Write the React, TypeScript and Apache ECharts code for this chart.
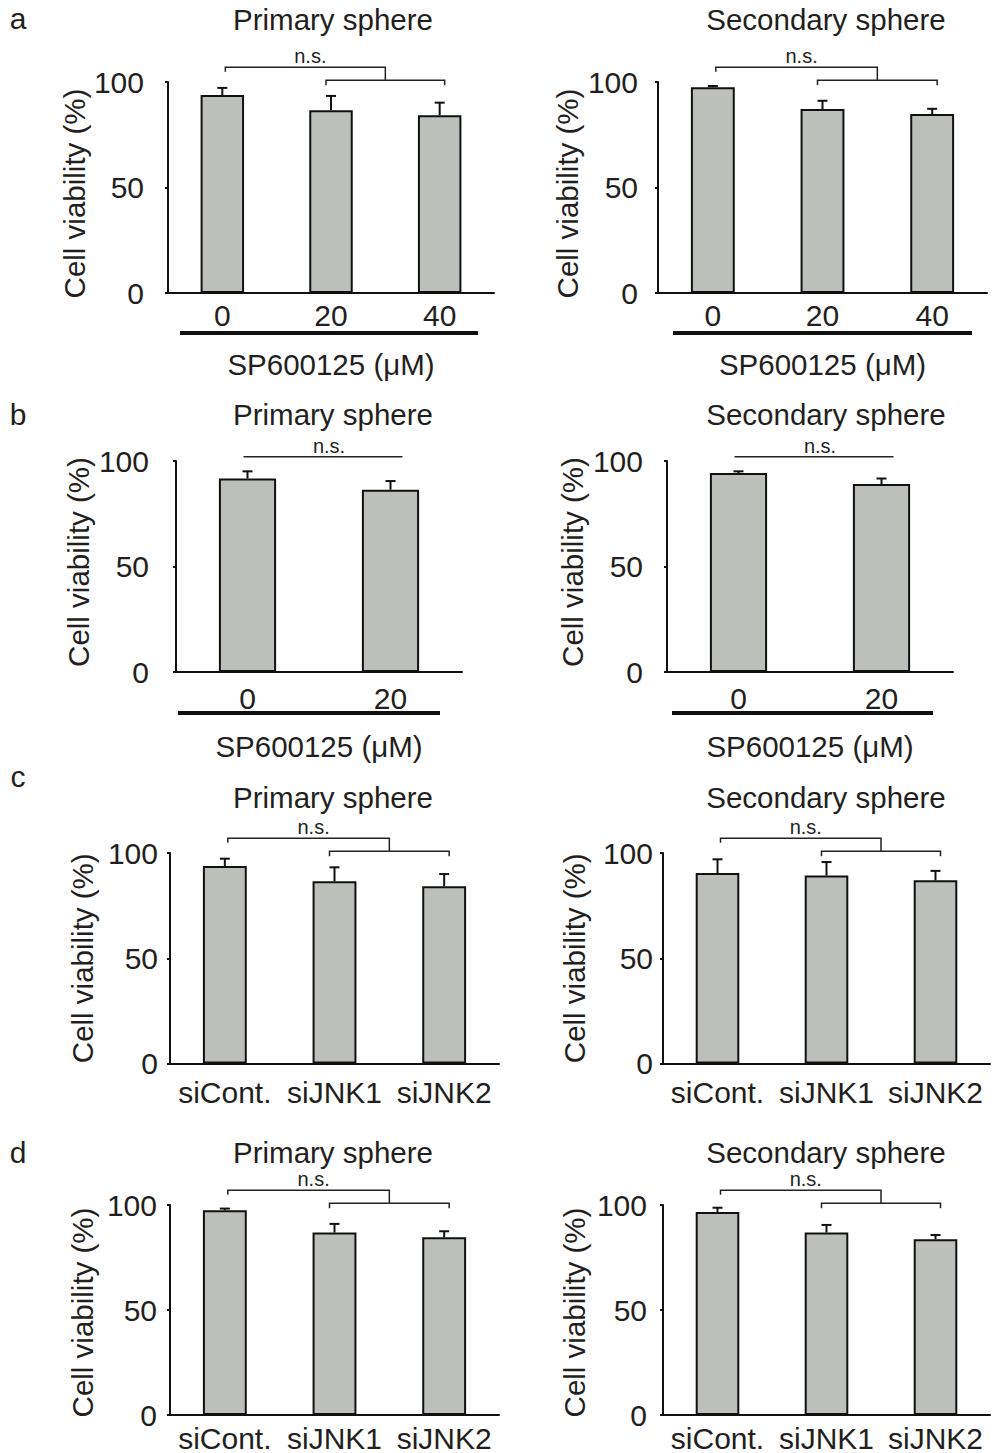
import React, { useEffect, useRef } from 'react';
import * as echarts from 'echarts';

const FONT = '"Liberation Sans", Arial, Helvetica, sans-serif';
const TEXT = '#231f20';
const INK = '#111111';
const BAR = '#bcbfba';
const FS_TICK = 30;
const FS_TEXT = 29.5;

// categories
const doseCats3 = ['0', '20', '40'];
const doseCats2 = ['0', '20'];
const siCats = ['siCont.', 'siJNK1', 'siJNK2'];

// values (mean, upper SE)
const aPrimaryMean = [93.8, 86.6, 84.2];
const aPrimaryErr = [3.4, 6.8, 6.0];
const aSecondaryMean = [97.5, 87.2, 84.8];
const aSecondaryErr = [0.6, 3.9, 2.5];
const bPrimaryMean = [91.7, 86.4];
const bPrimaryErr = [3.4, 4.1];
const bSecondaryMean = [94.3, 89.1];
const bSecondaryErr = [0.8, 2.6];
const cPrimaryMean = [93.8, 86.6, 84.2];
const cPrimaryErr = [3.5, 6.6, 5.8];
const cSecondaryMean = [90.5, 89.3, 87.0];
const cSecondaryErr = [6.5, 6.4, 4.5];
const dPrimaryMean = [97.5, 86.9, 84.6];
const dPrimaryErr = [0.8, 4.1, 2.9];
const dSecondaryMean = [96.7, 86.9, 83.7];
const dSecondaryErr = [2.0, 3.6, 2.0];

// axis ticks
const Y_MIN = 0;
const Y_MAX = 100;
const Y_STEP = 50;

// significance bracket levels (value units)
const NS_UPPER = 107;
const NS_LOWER = 100.8;
const NS_SINGLE = 102;

const panels = [
  { cats: doseCats3, mean: aPrimaryMean, err: aPrimaryErr, title: 'Primary sphere', g: [168, 82, 326, 211], yLM: 24, yNG: 79, yPad: [0, 12, 0, 0], xLM: 7, xName: 'SP600125 (μM)', xNG: 56, tx: 333, ty: 19.8, ul: [180, 478, 333] },
  { cats: doseCats3, mean: aSecondaryMean, err: aSecondaryErr, title: 'Secondary sphere', g: [658, 82, 329, 211], yLM: 20, yNG: 76, yPad: [0, 12, 0, 0], xLM: 7, xName: 'SP600125 (μM)', xNG: 56, tx: 826, ty: 19.8, ul: [673, 972, 333] },
  { cats: doseCats2, mean: bPrimaryMean, err: bPrimaryErr, title: 'Primary sphere', g: [176, 461, 286, 211], yLM: 27, yNG: 83, yPad: [0, 0, 0, 9], xLM: 11, xName: 'SP600125 (μM)', xNG: 59, tx: 333, ty: 414.8, ul: [178, 440, 713] },
  { cats: doseCats2, mean: bSecondaryMean, err: bSecondaryErr, title: 'Secondary sphere', g: [667, 461, 286, 211], yLM: 24, yNG: 80, yPad: [0, 0, 0, 9], xLM: 11, xName: 'SP600125 (μM)', xNG: 59, tx: 826, ty: 414.8, ul: [672, 933, 713] },
  { cats: siCats, mean: cPrimaryMean, err: cPrimaryErr, title: 'Primary sphere', g: [170, 853, 329, 210.5], yLM: 12, yNG: 73, yPad: [0, 0, 0, 0], xLM: 14, xName: '', xNG: 0, tx: 333, ty: 797.1, ul: null },
  { cats: siCats, mean: cSecondaryMean, err: cSecondaryErr, title: 'Secondary sphere', g: [663, 853, 327, 210.5], yLM: 10, yNG: 74, yPad: [0, 0, 0, 0], xLM: 14, xName: '', xNG: 0, tx: 826, ty: 797.1, ul: null },
  { cats: siCats, mean: dPrimaryMean, err: dPrimaryErr, title: 'Primary sphere', g: [170, 1205, 329, 210], yLM: 13, yNG: 73, yPad: [0, 5, 0, 0], xLM: 8, xName: '', xNG: 0, tx: 333, ty: 1152.5, ul: null },
  { cats: siCats, mean: dSecondaryMean, err: dSecondaryErr, title: 'Secondary sphere', g: [663, 1205, 327, 210], yLM: 16, yNG: 74, yPad: [0, 5, 0, 0], xLM: 8, xName: '', xNG: 0, tx: 826, ty: 1152.5, ul: null },
];

const letters = [
  { t: 'a', x: 18, y: 18 },
  { t: 'b', x: 18, y: 414.8 },
  { t: 'c', x: 18, y: 776.5 },
  { t: 'd', x: 18, y: 1152.5 },
];

function textEl(text: string, x: number, y: number, size: number, align = 'center') {
  return {
    type: 'text',
    x,
    y,
    silent: true,
    style: {
      text,
      font: `${size}px ${FONT}`,
      fill: TEXT,
      textAlign: align,
      textVerticalAlign: 'middle',
      align,
      verticalAlign: 'middle',
    },
  };
}

function buildOption() {
  const grid = panels.map((p) => ({ left: p.g[0], top: p.g[1], width: p.g[2], height: p.g[3], containLabel: false }));
  const xAxis = panels.map((p, i) => ({
    type: 'category',
    gridIndex: i,
    data: p.cats,
    axisLine: { show: true, lineStyle: { color: INK, width: 2 } },
    axisTick: { show: false },
    axisLabel: { color: TEXT, fontSize: FS_TICK, fontFamily: FONT, margin: p.xLM, interval: 0 },
    name: p.xName,
    nameLocation: 'middle',
    nameGap: p.xNG,
    nameTextStyle: { color: TEXT, fontSize: FS_TEXT, fontFamily: FONT },
  }));
  const yAxis = panels.map((p, i) => ({
    type: 'value',
    gridIndex: i,
    min: Y_MIN,
    max: Y_MAX,
    interval: Y_STEP,
    axisLine: { show: true, lineStyle: { color: INK, width: 2 } },
    axisTick: { show: true, length: 3, lineStyle: { color: INK, width: 2 } },
    splitLine: { show: false },
    axisLabel: { color: TEXT, fontSize: FS_TICK, fontFamily: FONT, margin: p.yLM },
    name: 'Cell viability (%)',
    nameLocation: 'middle',
    nameGap: p.yNG,
    nameTextStyle: { color: TEXT, fontSize: FS_TEXT, fontFamily: FONT, padding: p.yPad },
  }));

  const series: any[] = [];
  panels.forEach((p, i) => {
    series.push({
      type: 'bar',
      xAxisIndex: i,
      yAxisIndex: i,
      data: p.mean,
      barWidth: '40%',
      silent: true,
      itemStyle: { color: BAR, borderColor: INK, borderWidth: 2 },
    });
    series.push({
      type: 'custom',
      xAxisIndex: i,
      yAxisIndex: i,
      silent: true,
      clip: false,
      data: p.mean.map((m, j) => [j, m, m + p.err[j]]),
      renderItem: (_params: any, api: any) => {
        const base = api.coord([api.value(0), api.value(1)]);
        const top = api.coord([api.value(0), api.value(2)]);
        const st = { stroke: INK, lineWidth: 2, fill: null };
        return {
          type: 'group',
          children: [
            { type: 'line', shape: { x1: base[0], y1: base[1], x2: base[0], y2: top[1] }, style: st },
            { type: 'line', shape: { x1: base[0] - 5, y1: top[1], x2: base[0] + 5, y2: top[1] }, style: st },
          ],
        };
      },
    });
    const n = p.cats.length;
    series.push({
      type: 'custom',
      xAxisIndex: i,
      yAxisIndex: i,
      silent: true,
      clip: false,
      data: [[0, n === 3 ? NS_UPPER : NS_SINGLE, NS_LOWER]],
      renderItem: (_params: any, api: any) => {
        const st = { stroke: '#222', lineWidth: 1.5, fill: null };
        const font = `20px ${FONT}`;
        if (n === 2) {
          const l = api.coord([0, NS_SINGLE]);
          const r = api.coord([1, NS_SINGLE]);
          const x1 = l[0] - 4;
          const x2 = r[0] + 12;
          return {
            type: 'group',
            children: [
              { type: 'polyline', shape: { points: [[x1, l[1]], [x2, l[1]]] }, style: st },
              { type: 'text', style: { text: 'n.s.', x: (x1 + x2) / 2 + 6, y: l[1] - 1, font, fill: TEXT, textAlign: 'center', textVerticalAlign: 'bottom', align: 'center', verticalAlign: 'bottom' } },
            ],
          };
        }
        const c0 = api.coord([0, NS_UPPER]);
        const c1 = api.coord([1, NS_LOWER]);
        const c2 = api.coord([2, NS_LOWER]);
        const yU = c0[1];
        const yL = c1[1];
        const l2 = c1[0] - 5;
        const r2 = c2[0] + 5;
        const mid = (l2 + r2) / 2;
        const l1 = c0[0] + 3;
        return {
          type: 'group',
          children: [
            { type: 'polyline', shape: { points: [[l1, yU + 4.5], [l1, yU], [mid, yU], [mid, yL]] }, style: st },
            { type: 'polyline', shape: { points: [[l2, yL + 5], [l2, yL], [r2, yL], [r2, yL + 5]] }, style: st },
            { type: 'text', style: { text: 'n.s.', x: (l1 + mid) / 2 + 5, y: yU - 1, font, fill: TEXT, textAlign: 'center', textVerticalAlign: 'bottom', align: 'center', verticalAlign: 'bottom' } },
          ],
        };
      },
    });
  });

  const graphic: any[] = [];
  panels.forEach((p) => {
    graphic.push(textEl(p.title, p.tx, p.ty, FS_TEXT));
    if (p.ul) {
      graphic.push({
        type: 'rect',
        silent: true,
        shape: { x: p.ul[0], y: p.ul[2] - 2, width: p.ul[1] - p.ul[0], height: 4 },
        style: { fill: INK },
      });
    }
  });
  letters.forEach((l) => graphic.push(textEl(l.t, l.x, l.y, 30)));

  return {
    animation: false,
    backgroundColor: '#ffffff',
    grid,
    xAxis,
    yAxis,
    series,
    graphic,
  };
}

export default function App() {
  const ref = useRef<HTMLDivElement>(null);
  useEffect(() => {
    if (!ref.current) return;
    const chart = echarts.init(ref.current, null, { renderer: 'svg', width: 996, height: 1453 });
    chart.setOption(buildOption() as any);
    return () => chart.dispose();
  }, []);
  return (
    <div
      ref={ref}
      style={{ position: 'absolute', left: 0, top: 0, width: 996, height: 1453, background: '#fff' }}
    />
  );
}
